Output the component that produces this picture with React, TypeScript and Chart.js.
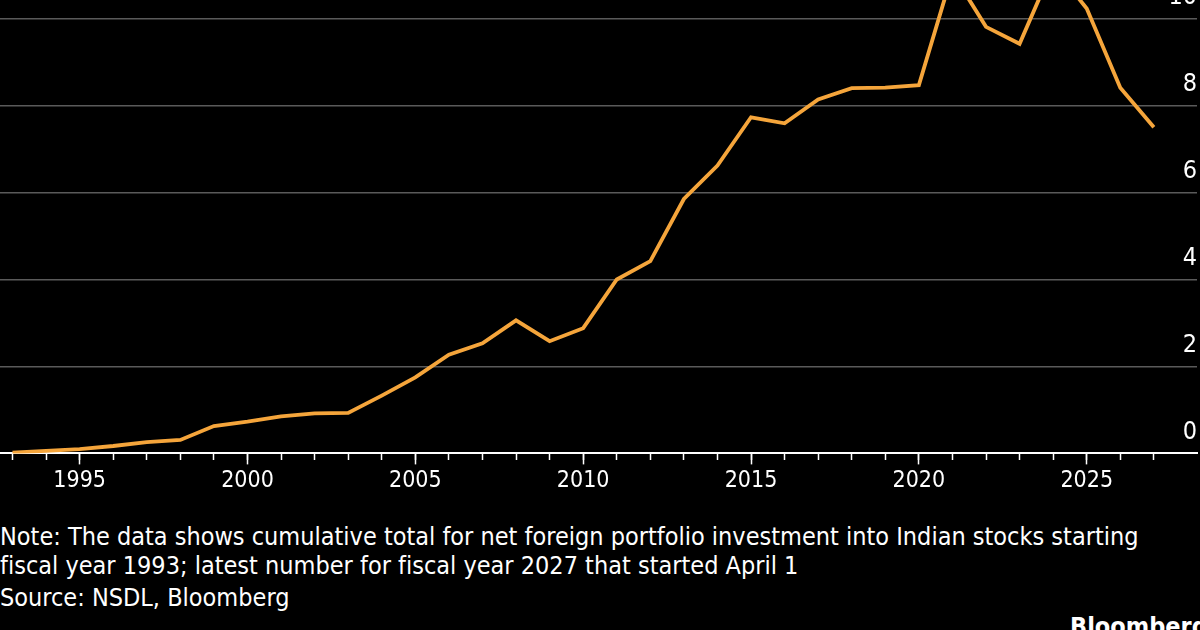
import { useEffect, useRef } from "react";
import { Chart, registerables } from "chart.js";

Chart.register(...registerables);

// Fiscal years on the horizontal axis
const years = [
  1993, 1994, 1995, 1996, 1997, 1998, 1999, 2000, 2001, 2002, 2003, 2004,
  2005, 2006, 2007, 2008, 2009, 2010, 2011, 2012, 2013, 2014, 2015, 2016,
  2017, 2018, 2019, 2020, 2021, 2022, 2023, 2024, 2025, 2026, 2027,
];

// Cumulative net foreign portfolio investment into Indian stocks
const cumulativeFlows = [
  0.02, 0.06, 0.1, 0.17, 0.26, 0.31, 0.63, 0.73, 0.85, 0.92, 0.93, 1.33,
  1.75, 2.27, 2.53, 3.06, 2.58, 2.88, 4.0, 4.42, 5.85, 6.62, 7.73, 7.59,
  8.14, 8.4, 8.41, 8.47, 11.05, 9.81, 9.42, 11.2, 10.23, 8.41, 7.5,
];

// Labelled years and value ticks
const labelledYears = [1995, 2000, 2005, 2010, 2015, 2020, 2025];
const valueTicks = [0, 2, 4, 6, 8, 10, 12];

const noteLines = [
  "Note: The data shows cumulative total for net foreign portfolio investment into Indian stocks starting",
  "fiscal year 1993; latest number for fiscal year 2027 that started April 1",
];
const sourceLine = "Source: NSDL, Bloomberg";
const brand = "Bloomberg";

const FONT = '"DejaVu Sans Condensed", "Liberation Sans Narrow", "DejaVu Sans", sans-serif';
const ORANGE = "#f5a53b";
const GRID = "#5a5a5a";

const X_MIN = 1992.628;
const X_MAX = 2028.285;

export default function App() {
  const canvasRef = useRef<HTMLCanvasElement | null>(null);

  useEffect(() => {
    document.body.style.margin = "0";
    document.body.style.background = "#000";
    const canvas = canvasRef.current;
    if (!canvas) return;
    Chart.defaults.font.family = FONT;

    const chart = new Chart(canvas, {
      type: "line",
      data: {
        datasets: [
          {
            data: years.map((yr, i) => ({ x: yr, y: cumulativeFlows[i] })),
            borderColor: ORANGE,
            borderWidth: 3.8,
            pointRadius: 0,
            tension: 0,
            borderJoinStyle: "miter",
          },
        ],
      },
      options: {
        responsive: false,
        animation: false,
        devicePixelRatio: 1,
        layout: { padding: { top: 31.6, bottom: 0, left: 0, right: 3 } },
        plugins: { legend: { display: false }, tooltip: { enabled: false } },
        scales: {
          x: {
            type: "linear",
            position: "bottom",
            min: X_MIN,
            max: X_MAX,
            afterBuildTicks: (s: any) => {
              s.ticks = labelledYears.map((v) => ({ value: v }));
            },
            ticks: {
              color: "#ffffff",
              font: { size: 23 },
              padding: 3,
              maxRotation: 0,
              autoSkip: false,
              callback: (v: any) => String(v),
            },
            grid: {
              drawOnChartArea: false,
              drawTicks: true,
              tickLength: 11,
              tickColor: "#ffffff",
              tickWidth: 1.5,
            },
            border: { display: true, color: "#ffffff", width: 2 },
          },
          xMinor: {
            type: "linear",
            axis: "x",
            position: { y: 0 },
            min: X_MIN,
            max: X_MAX,
            afterBuildTicks: (s: any) => {
              s.ticks = years.map((v) => ({ value: v }));
            },
            ticks: { display: false },
            grid: {
              drawOnChartArea: false,
              drawTicks: true,
              tickLength: 7,
              tickColor: "#ffffff",
              tickWidth: 1.5,
            },
            border: { display: false },
          },
          y: {
            type: "linear",
            position: "right",
            min: 0,
            max: 12,
            afterBuildTicks: (s: any) => {
              s.ticks = valueTicks.map((v) => ({ value: v }));
            },
            ticks: {
              mirror: true,
              padding: 0,
              labelOffset: -21,
              color: "#ffffff",
              font: { size: 25 },
              callback: (v: any) => String(v),
            },
            grid: {
              color: (ctx: any) => (ctx.tick && ctx.tick.value === 0 ? "rgba(0,0,0,0)" : GRID),
              lineWidth: 1.5,
              drawTicks: false,
            },
            border: { display: false },
          },
        } as any,
      },
    });
    return () => chart.destroy();
  }, []);

  return (
    <div
      style={{
        position: "fixed",
        left: 0,
        top: 0,
        width: 1200,
        height: 630,
        overflow: "hidden",
        background: "#000",
        fontFamily: FONT,
        color: "#ffffff",
        fontVariantLigatures: "none",
      }}
    >
      <canvas
        ref={canvasRef}
        width={1200}
        height={598}
        style={{ position: "absolute", left: 0, top: -100, width: 1200, height: 598 }}
      />
      <div
        style={{
          position: "absolute",
          left: 0,
          top: 522,
          fontSize: 25,
          lineHeight: "29px",
          whiteSpace: "nowrap",
        }}
      >
        {noteLines.map((t) => (
          <div key={t}>{t}</div>
        ))}
        <div style={{ marginTop: 3 }}>{sourceLine}</div>
      </div>
      <div
        style={{
          position: "absolute",
          left: 1070,
          top: 612,
          fontSize: 25,
          fontWeight: "bold",
          lineHeight: "30px",
          whiteSpace: "nowrap",
        }}
      >
        {brand}
      </div>
    </div>
  );
}
